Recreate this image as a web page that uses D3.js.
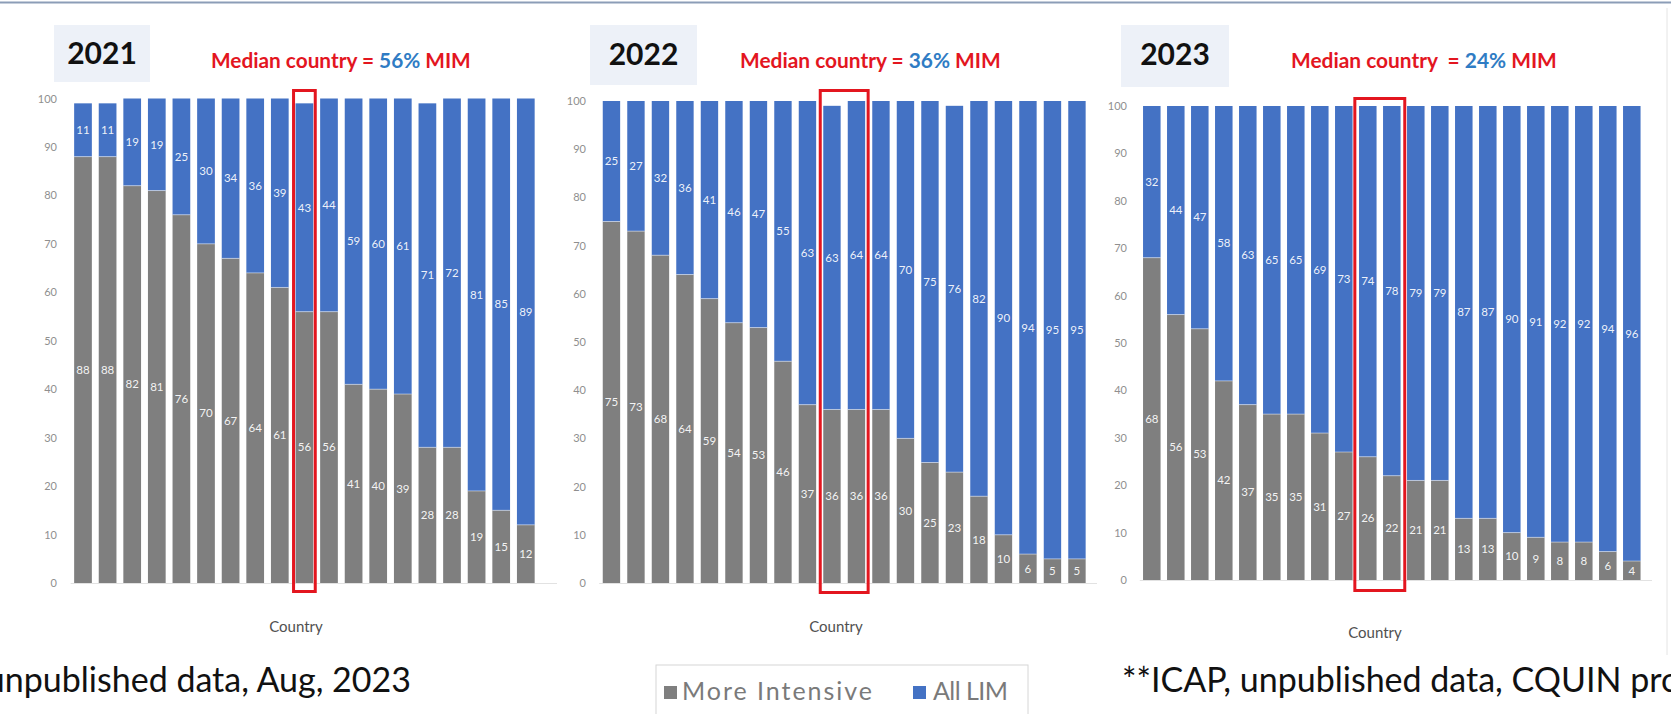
<!DOCTYPE html>
<html>
<head>
<meta charset="utf-8">
<script src="https://cdn.jsdelivr.net/npm/d3@7"></script>
<style>
  html, body { margin: 0; padding: 0; background: #ffffff; }
  svg { display: block; font-family: Lato, "Open Sans", sans-serif; }
  text { white-space: pre; }
</style>
</head>
<body>
<svg id="chart" width="1671" height="714"></svg>
<script>
// ---- data -------------------------------------------------------------
const years = ["2021", "2022", "2023"];
const medianPct = [56, 36, 24];
const seriesNames = ["More Intensive", "All LIM"];
const yTicks = [0, 10, 20, 30, 40, 50, 60, 70, 80, 90, 100];

const moreIntensive2021 = [88, 88, 82, 81, 76, 70, 67, 64, 61, 56, 56, 41, 40, 39, 28, 28, 19, 15, 12];
const allLim2021        = [11, 11, 19, 19, 25, 30, 34, 36, 39, 43, 44, 59, 60, 61, 71, 72, 81, 85, 89];

const moreIntensive2022 = [75, 73, 68, 64, 59, 54, 53, 46, 37, 36, 36, 36, 30, 25, 23, 18, 10, 6, 5, 5];
const allLim2022        = [25, 27, 32, 36, 41, 46, 47, 55, 63, 63, 64, 64, 70, 75, 76, 82, 90, 94, 95, 95];

const moreIntensive2023 = [68, 56, 53, 42, 37, 35, 35, 31, 27, 26, 22, 21, 21, 13, 13, 10, 9, 8, 8, 6, 4];
const allLim2023        = [32, 44, 47, 58, 63, 65, 65, 69, 73, 74, 78, 79, 79, 87, 87, 90, 91, 92, 92, 94, 96];

// unnamed countries, ranked by share of more intensive models
const countries2021 = moreIntensive2021.map((_, i) => `Country ${i + 1}`);
const countries2022 = moreIntensive2022.map((_, i) => `Country ${i + 1}`);
const countries2023 = moreIntensive2023.map((_, i) => `Country ${i + 1}`);

// countries outlined as the median
const medianCountries2021 = ["Country 10"];
const medianCountries2022 = ["Country 10", "Country 11"];
const medianCountries2023 = ["Country 10", "Country 11"];

const footLeft = "unpublished data, Aug, 2023";
const footRight = "**ICAP, unpublished data, CQUIN project";

// ---- styling ----------------------------------------------------------
const COLORS = { mi: "#7f7f7f", lim: "#4472c4", red: "#e3161f", blueText: "#2f7cc4" };

const panels = [
  { year: years[0], median: medianPct[0], cats: countries2021, mi: moreIntensive2021, lim: allLim2021, hi: medianCountries2021,
    L: { x0: 70.7, x1: 538.1, yTop: 98.5, yBot: 583, pad: 0.28, tickX: 57, baseEnd: 557,
         box: [54, 25, 96, 57], yearY: 64, medX: 211, medW: 260, medSep: "Median country = ",
         countryX: 296, countryY: 632, hiPadX: 2, hiTop: 8, hiBot: 8.5 } },
  { year: years[1], median: medianPct[1], cats: countries2022, mi: moreIntensive2022, lim: allLim2022, hi: medianCountries2022,
    L: { x0: 599.2, x1: 1089.2, yTop: 101, yBot: 583, pad: 0.29, tickX: 586, baseEnd: 1097,
         box: [590, 25, 107, 60], yearY: 65, medX: 740, medW: 261, medSep: "Median country = ",
         countryX: 836, countryY: 632, hiPadX: 3, hiTop: 10.5, hiBot: 9.5 } },
  { year: years[2], median: medianPct[2], cats: countries2023, mi: moreIntensive2023, lim: allLim2023, hi: medianCountries2023,
    L: { x0: 1139.8, x1: 1643.8, yTop: 106, yBot: 580, pad: 0.27, tickX: 1127, baseEnd: 1652,
         box: [1121, 25, 108, 62], yearY: 65, medX: 1291, medW: 266, medSep: "Median country  = ",
         countryX: 1375, countryY: 638, hiPadX: 4.2, hiTop: 7.5, hiBot: 10.5 } }
];

const svg = d3.select("#chart");

// scale a text's font so it spans the given width
function fitWidth(sel, width) {
  const node = sel.node();
  const fs = parseFloat(sel.attr("font-size"));
  const w = node.getComputedTextLength();
  if (w > 0) sel.attr("font-size", (fs * width / w).toFixed(2));
}

// slide frame line along the top
svg.append("line")
  .attr("x1", 0).attr("x2", 1671).attr("y1", 2.5).attr("y2", 2.5)
  .attr("stroke", "#8c9db7").attr("stroke-width", 2);

// faint edge of the right-hand chart object
svg.append("line")
  .attr("x1", 1667).attr("x2", 1667).attr("y1", 8).attr("y2", 655)
  .attr("stroke", "#e4e4e4").attr("stroke-width", 1);

panels.forEach(p => {
  const L = p.L;
  const g = svg.append("g");

  const x = d3.scaleBand().domain(p.cats).range([L.x0, L.x1])
    .paddingInner(L.pad).paddingOuter(L.pad / 2);
  const y = d3.scaleLinear().domain([0, 100]).range([L.yBot, L.yTop]).clamp(true);

  const rows = p.cats.map((c, i) => ({ cat: c, mi: p.mi[i], lim: p.lim[i] }));
  const stacked = d3.stack().keys(["mi", "lim"])(rows);

  // year badge
  g.append("rect")
    .attr("x", L.box[0]).attr("y", L.box[1]).attr("width", L.box[2]).attr("height", L.box[3])
    .attr("fill", "#edf1f8");
  g.append("text")
    .attr("x", L.box[0] + L.box[2] / 2).attr("y", L.yearY)
    .attr("text-anchor", "middle").attr("font-size", 30).attr("font-weight", 700)
    .attr("fill", "#111111").text(p.year);

  // median headline
  const med = g.append("text")
    .attr("x", L.medX).attr("y", 68).attr("font-size", 20).attr("font-weight", 700);
  med.append("tspan").attr("fill", COLORS.red).text(L.medSep);
  med.append("tspan").attr("fill", COLORS.blueText).text(`${p.median}%`);
  med.append("tspan").attr("fill", COLORS.red).text(" MIM");
  fitWidth(med, L.medW);

  // y axis labels (no axis line)
  const yAxis = d3.axisLeft(y).tickValues(yTicks).tickSize(0).tickPadding(0);
  const ya = g.append("g").attr("transform", `translate(${L.tickX},0)`).call(yAxis);
  ya.select(".domain").remove();
  ya.selectAll("text")
    .attr("font-family", "Lato, 'Open Sans', sans-serif")
    .attr("font-size", 11).attr("fill", "#8f8f8f");

  // category baseline
  g.append("line")
    .attr("x1", L.x0).attr("x2", L.baseEnd).attr("y1", y(0) + 0.5).attr("y2", y(0) + 0.5)
    .attr("stroke", "#e2e2e2").attr("stroke-width", 1);

  // stacked bars
  const colorOf = { mi: COLORS.mi, lim: COLORS.lim };
  const series = g.selectAll("g.series").data(stacked).join("g")
    .attr("class", "series").attr("fill", s => colorOf[s.key]);
  series.selectAll("rect").data(s => s).join("rect")
    .attr("x", d => x(d.data.cat))
    .attr("width", x.bandwidth())
    .attr("y", d => y(d[1]))
    .attr("height", d => Math.max(0, y(d[0]) - y(d[1])));

  // thin light seam between the two segments
  g.append("g").selectAll("line").data(stacked[0]).join("line")
    .attr("x1", d => x(d.data.cat)).attr("x2", d => x(d.data.cat) + x.bandwidth())
    .attr("y1", d => y(d[1])).attr("y2", d => y(d[1]))
    .attr("stroke", "#ffffff").attr("stroke-opacity", 0.45).attr("stroke-width", 1);

  // segment value labels
  g.append("g").selectAll("g").data(stacked).join("g")
    .selectAll("text").data(s => s.map(d => ({ d, key: s.key }))).join("text")
    .attr("x", o => x(o.d.data.cat) + x.bandwidth() / 2)
    .attr("y", o => (y(o.d[0]) + y(o.d[1])) / 2)
    .attr("dy", "0.35em").attr("text-anchor", "middle")
    .attr("font-size", 11.5).attr("fill", "#ffffff").attr("fill-opacity", 0.92)
    .text(o => o.d.data[o.key]);

  // median outline
  const first = p.hi[0], last = p.hi[p.hi.length - 1];
  g.append("rect")
    .attr("x", x(first) - L.hiPadX)
    .attr("width", x(last) + x.bandwidth() - x(first) + 2 * L.hiPadX)
    .attr("y", y(100) - L.hiTop)
    .attr("height", y(0) + L.hiBot - (y(100) - L.hiTop))
    .attr("fill", "none").attr("stroke", COLORS.red).attr("stroke-width", 3);

  // axis title
  g.append("text")
    .attr("x", L.countryX).attr("y", L.countryY)
    .attr("text-anchor", "middle").attr("font-size", 15).attr("fill", "#505050")
    .text("Country");
});

// legend
const lg = svg.append("g");
lg.append("rect").attr("x", 656).attr("y", 665).attr("width", 372).attr("height", 70)
  .attr("fill", "#ffffff").attr("stroke", "#d6d6d6").attr("stroke-width", 1);
const legendItems = [
  { name: seriesNames[0], color: COLORS.mi, sx: 664, tx: 682, tw: 190 },
  { name: seriesNames[1], color: COLORS.lim, sx: 913, tx: 933, tw: 75 }
];
legendItems.forEach(it => {
  lg.append("rect").attr("x", it.sx).attr("y", 686).attr("width", 13).attr("height", 13).attr("fill", it.color);
  lg.append("text").attr("x", it.tx).attr("y", 700)
    .attr("font-size", 25).attr("fill", "#7a7a7a")
    .attr("textLength", it.tw).attr("lengthAdjust", "spacing")
    .text(it.name);
});

// source notes
svg.append("text").attr("x", 411).attr("y", 692).attr("text-anchor", "end")
  .attr("font-size", 34).attr("fill", "#111111").text(footLeft);
svg.append("text").attr("x", 1122).attr("y", 692)
  .attr("font-size", 34).attr("fill", "#111111").text(footRight);
</script>
</body>
</html>
